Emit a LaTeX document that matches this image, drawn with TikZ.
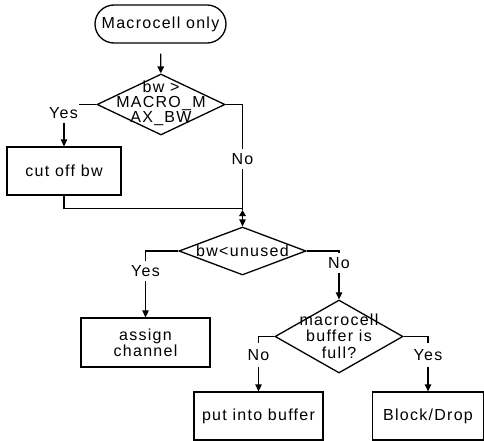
\documentclass[tikz,border=0pt]{standalone}
\usepackage{fontspec}
\setmainfont{Liberation Sans}[LetterSpace=8]
\usetikzlibrary{shapes.geometric,arrows.meta}
\begin{document}
\begin{tikzpicture}[x=1pt,y=-1pt,
  every node/.style={font=\fontsize{16}{16}\selectfont},
  ln/.style={line width=1.3pt},
  arr/.style={ln,-{Triangle[length=7pt,width=6.5pt]}},
  box/.style={draw,ln,rectangle,inner sep=0pt,align=center},
  dia/.style={draw,ln,diamond,inner sep=0pt},
  term/.style={draw,ln,rectangle,rounded corners=19pt,inner sep=0pt},
  dtext/.style={align=center,inner sep=0pt},
  lab/.style={fill=white,inner sep=1.5pt,minimum height=20pt}]
\useasboundingbox (0,0) rectangle (484,441);
% nodes
\node[term,minimum width=131pt,minimum height=38pt] (start) at (160.5,24) {Macrocell only};
\node[dia,minimum width=128pt,minimum height=61pt] (d1) at (161,104.5) {};
\node[dtext,font=\fontsize{16}{15}\selectfont] (d1t) at (161,103.5) {bw >\\MACRO\_M\\AX\_BW};
\node[box,minimum width=114pt,minimum height=48pt] (cut) at (64,171) {cut off bw};
\coordinate (j) at (242.5,210);
\node[dia,minimum width=127pt,minimum height=48pt] (d2) at (242.5,251) {};
\node[dtext] (d2t) at (242.5,251) {bw<unused};
\node[box,minimum width=129pt,minimum height=49pt] (assign) at (145.5,342.5) {assign\\channel};
\node[dia,minimum width=128pt,minimum height=73pt] (d3) at (339,336.5) {};
\node[dtext,font=\fontsize{16}{16.5}\selectfont] (d3t) at (339,336) {macrocell\\buffer is\\full?};
\node[box,minimum width=129pt,minimum height=48pt] (put) at (258.5,416) {put into buffer};
\node[box,minimum width=111pt,minimum height=48pt] (block) at (428,416) {Block/Drop};
% connectors
\draw[arr,shorten <=10pt] (start) -- (d1);
\draw[arr] (d1.west) -| (cut.north);
\draw[ln] (d1.east) -| (j);
\draw[ln] (cut.south) |- ([yshift=1.5pt]j);
\draw[ln,{Triangle[length=6pt,width=6.5pt]}-{Triangle[length=7pt,width=6.5pt]}] (j) -- (d2.north);
\draw[arr] (d2.west) -| (assign.north);
\draw[arr] (d2.east) -| (d3.north);
\draw[arr] (d3.west) -| (put.north);
\draw[arr] (d3.east) -| (block.north);
% labels
\node[lab] (y1) at (63.5,113) {Yes};
\node[lab] (n1) at (242.5,159) {No};
\node[lab] (y2) at (145.5,271) {Yes};
\node[lab] (n2) at (339,263) {No};
\node[lab,minimum height=24pt] (n3) at (258.5,355) {No};
\node[lab,minimum height=24pt] (y3) at (428,355) {Yes};
\end{tikzpicture}
\end{document}
